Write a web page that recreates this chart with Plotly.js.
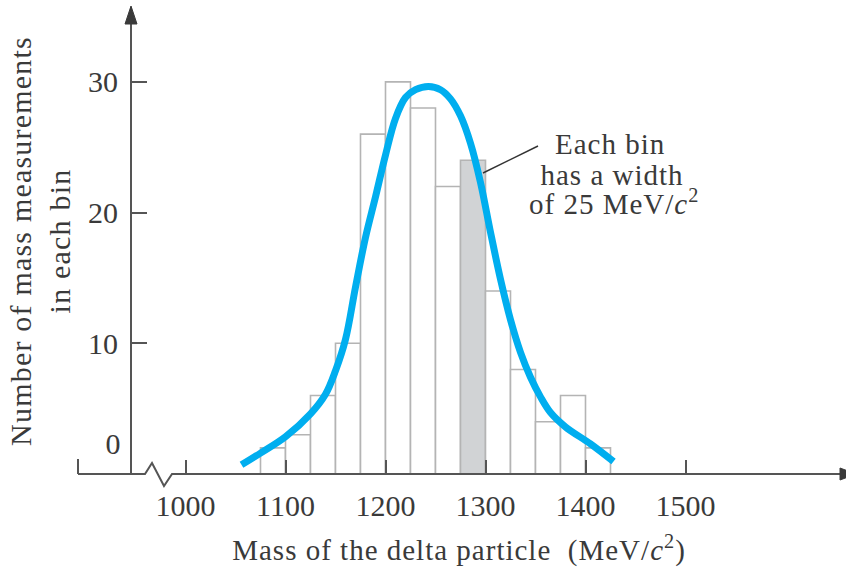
<!DOCTYPE html>
<html>
<head>
<meta charset="utf-8">
<script src="https://cdn.plot.ly/plotly-3.0.1.min.js"></script>
<style>
  html, body { margin: 0; padding: 0; background: #ffffff; }
  #chart { width: 846px; height: 570px; }
  #chart .xtitle { letter-spacing: 1px; }
  #chart .ytitle { letter-spacing: 1.2px; }
  #chart .annotation-text { letter-spacing: 1px; }
</style>
</head>
<body>
<div id="chart"></div>
<script>
// ---- data ----
const binCenters = [1087.5, 1112.5, 1137.5, 1162.5, 1187.5, 1212.5, 1237.5,
                    1262.5, 1287.5, 1312.5, 1337.5, 1362.5, 1387.5, 1412.5];
const binCounts  = [2, 3, 6, 10, 26, 30, 28, 22, 24, 14, 8, 4, 6, 2];
const binWidthMeV = 25;
const highlightedBin = 1287.5;

const fitMass  = [1056, 1075, 1100, 1125, 1140, 1150, 1160, 1170, 1180, 1190,
                  1200, 1210, 1220, 1230, 1243, 1255, 1265, 1275, 1285, 1295,
                  1305, 1315, 1325, 1335, 1345, 1355, 1365, 1380, 1405, 1428];
const fitCount = [0.7, 1.6, 2.85, 4.6, 6.1, 7.9, 10.3, 14.3, 18.1, 21.2,
                  24.4, 27.2, 28.8, 29.4, 29.65, 29.4, 28.7, 27.4, 25.3, 22.3,
                  18.5, 14.9, 11.8, 9.3, 7.4, 5.9, 4.7, 3.6, 2.3, 0.95];

const xTickVals = [1000, 1100, 1200, 1300, 1400, 1500];
const yTickVals = [10, 20, 30];

// ---- styling ----
const FONT = 'Liberation Serif, Times New Roman, serif';
const TXT = '#3a3a3a';
const AX = '#555555';

// pixel helpers for decorative axis shapes (paper coordinates)
const W = 846, H = 570, L = 78, R = 6, T = 8, B = 96;
const PW = W - L - R, PH = H - T - B;
const px = v => (v - L) / PW;
const py = v => (H - B - v) / PH;

const bars = {
  type: 'bar',
  x: binCenters,
  y: binCounts,
  width: binCenters.map(() => binWidthMeV),
  marker: {
    color: binCenters.map(c => c === highlightedBin ? '#d1d3d5' : 'rgba(255,255,255,1)'),
    line: { color: '#b4b4b4', width: 1.6 }
  },
  hoverinfo: 'skip',
  showlegend: false
};

const fit = {
  type: 'scatter',
  mode: 'lines',
  x: fitMass,
  y: fitCount,
  line: { color: '#00aeef', width: 7, shape: 'spline', smoothing: 1 },
  hoverinfo: 'skip',
  showlegend: false
};

const layout = {
  width: W, height: H,
  margin: { l: L, r: R, t: T, b: B, pad: 0 },
  paper_bgcolor: '#ffffff',
  plot_bgcolor: 'rgba(0,0,0,0)',
  showlegend: false,
  font: { family: FONT, size: 29, color: TXT },
  xaxis: {
    range: [892.5, 1654.5],
    tickvals: xTickVals,
    ticktext: xTickVals.map(String),
    ticks: 'inside', ticklen: 14, tickwidth: 2, tickcolor: AX,
    showline: false, showgrid: false, zeroline: false,
    tickfont: { family: FONT, size: 30, color: TXT },
    ticklabelstandoff: 11,
    title: {
      text: 'Mass of the delta particle  (MeV/<i>c</i><sup>2</sup>)',
      font: { family: FONT, size: 29, color: TXT },
      standoff: 18
    },
    fixedrange: true
  },
  yaxis: {
    range: [0, 35.65],
    anchor: 'free', position: px(131),
    tickvals: yTickVals,
    ticktext: yTickVals.map(String),
    ticks: 'inside', ticklen: 15, tickwidth: 2, tickcolor: AX,
    showline: true, linecolor: AX, linewidth: 2,
    showgrid: false, zeroline: false,
    tickfont: { family: FONT, size: 30, color: TXT },
    ticklabelstandoff: 6,
    title: {
      text: 'Number of mass measurements<br>in each bin',
      font: { family: FONT, size: 30, color: TXT },
      standoff: 8
    },
    fixedrange: true
  },
  shapes: [
    // x axis with break
    { type: 'path', xref: 'paper', yref: 'paper',
      path: `M ${px(78)} ${py(474)} L ${px(145)} ${py(474)} L ${px(152)} ${py(463)} L ${px(164)} ${py(486)} L ${px(172)} ${py(474)} L ${px(846)} ${py(474)}`,
      line: { color: AX, width: 2 } },
    // left end tick
    { type: 'line', xref: 'paper', yref: 'paper',
      x0: px(78), x1: px(78), y0: py(474), y1: py(459),
      line: { color: AX, width: 2 } },
    // top arrow of y axis
    { type: 'path', xref: 'paper', yref: 'paper',
      path: `M ${px(125)} ${py(24)} L ${px(131)} ${py(6)} L ${px(137)} ${py(24)} Z`,
      fillcolor: '#3a3a3a', line: { color: '#3a3a3a', width: 1 } },
    // right arrow of x axis (partly outside)
    { type: 'path', xref: 'paper', yref: 'paper',
      path: `M ${px(840)} ${py(468)} L ${px(856)} ${py(474)} L ${px(840)} ${py(480)} Z`,
      fillcolor: '#3a3a3a', line: { color: '#3a3a3a', width: 1 } },
    // leader line of the note
    { type: 'line', xref: 'paper', yref: 'paper',
      x0: px(483), y0: py(173), x1: px(538), y1: py(146),
      line: { color: '#333333', width: 1.5 } }
  ],
  annotations: [
    { xref: 'paper', yref: 'y', x: px(123), y: (474 - 443) / 13.07,
      xanchor: 'right', yanchor: 'middle', showarrow: false,
      text: '0', font: { family: FONT, size: 30, color: TXT } },
    { xref: 'paper', yref: 'paper', x: px(610), y: py(144),
      xanchor: 'center', yanchor: 'middle', showarrow: false,
      text: 'Each bin', font: { family: FONT, size: 29, color: TXT } },
    { xref: 'paper', yref: 'paper', x: px(612), y: py(175),
      xanchor: 'center', yanchor: 'middle', showarrow: false,
      text: 'has a width', font: { family: FONT, size: 29, color: TXT } },
    { xref: 'paper', yref: 'paper', x: px(614), y: py(202),
      xanchor: 'center', yanchor: 'middle', showarrow: false,
      text: 'of ' + binWidthMeV + ' MeV/<i>c</i><sup>2</sup>', font: { family: FONT, size: 29, color: TXT } }
  ]
};

Plotly.newPlot('chart', [bars, fit], layout, { staticPlot: true, displayModeBar: false });
</script>
</body>
</html>
